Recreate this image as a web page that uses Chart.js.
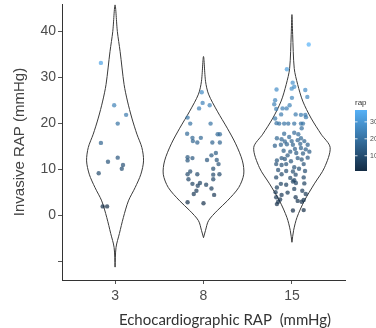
<!DOCTYPE html>
<html>
<head>
<meta charset="utf-8">
<script src="https://cdn.jsdelivr.net/npm/chart.js@4"></script>
<style>
html, body { margin: 0; padding: 0; background: #fff; }
#wrap { width: 376px; height: 328px; }
</style>
</head>
<body>
<div id="wrap"><canvas id="chart" width="376" height="328"></canvas></div>
<script>
// echo RAP groups
const groups = ['3', '8', '15'];
const yTicks = [-10, 0, 10, 20, 30, 40];
const legendTicks = [10, 20, 30];
const rapMin = 1, rapMax = 37;

// invasive RAP per patient + horizontal jitter (category units)
const rap3 = [33.2, 24.0, 21.9, 20.0, 15.8, 12.6, 11.7, 11.0, 10.2, 9.2, 2.0, 2.0];
const jitter3 = [-0.16, -0.01, 0.125, 0.03, -0.16, 0.03, -0.08, 0.09, 0.076, -0.185, -0.14, -0.09];

const rap8 = [26.8, 24.5, 23.3, 24.0, 21.3, 20.0, 20.0, 17.8, 16.9, 16.9, 17.7, 17.7, 16.2, 15.9, 15.9, 15.9,
  13.6, 12.7, 12.5, 12.0, 13.1, 12.1, 12.1, 11.2, 10.2, 9.6, 9.0, 9.0, 8.9, 9.0, 7.9, 7.9, 6.9, 7.1, 6.7, 6.5,
  5.9, 5.4, 4.7, 4.5, 2.9, 2.7];
const jitter8 = [-0.02, -0.01, -0.05, 0.07, -0.18, -0.15, 0.08, -0.185, -0.125, -0.03, 0.16, 0.185, -0.12, -0.07, 0.10, 0.185,
  0.14, -0.18, -0.125, -0.18, 0.09, 0.04, 0.15, 0.17, 0.11, -0.15, -0.18, -0.07, 0.11, 0.18, -0.17, 0.11, -0.125, -0.04, 0.03, -0.065,
  0.09, -0.08, -0.11, 0.12, -0.18, 0.0];

const rap15 = [37.2, 31.8, 28.9, 28.0, 27.6, 27.4, 27.3, 25.6, 25.8, 25.1,
  24.2, 24.0, 23.3, 23.3, 23.2, 22.0, 21.9, 21.9, 21.1, 22.0,
  21.4, 20.1, 20.0, 20.0, 20.0, 20.0, 20.0, 20.0, 19.0, 17.8,
  18.0, 17.7, 17.1, 16.8, 16.6, 16.8, 16.1, 16.2, 16.4, 16.2,
  15.2, 15.4, 15.5, 15.4, 15.6, 15.4, 14.5, 14.7, 14.4, 14.1,
  13.9, 13.6, 13.5, 13.9, 13.1, 12.5, 12.0, 12.3, 12.5, 12.2,
  12.6, 11.8, 11.2, 11.0, 11.2, 11.2, 10.5, 10.2, 9.9, 9.7,
  9.6, 9.7, 9.0, 8.9, 8.3, 8.2, 8.3, 7.7, 7.4, 7.1,
  6.9, 6.7, 7.0, 6.1, 5.8, 5.4, 5.1, 5.0, 4.5, 4.7,
  4.0, 4.0, 3.5, 3.0, 3.2, 3.0, 3.4, 2.5, 1.1, 1.2];
const jitter15 = [0.19, -0.057, 0.008, 0.026, -0.003, -0.174, 0.151, 0, 0.174, -0.19,
  -0.2, -0.026, -0.106, -0.06, -0.178, 0.042, 0.102, 0.151, -0.19, -0.122,
  0.159, -0.174, -0.144, -0.088, -0.042, 0.026, 0.102, 0.125, 0.11, -0.088,
  0.026, 0.072, -0.031, -0.17, -0.117, 0.102, -0.08, -0.003, 0.065, 0.14,
  -0.193, -0.125, -0.057, 0.011, 0.094, 0.178, 0.034, 0.102, 0.156, -0.094,
  -0.019, 0.049, 0.125, 0.197, -0.049, -0.117, -0.17, -0.08, 0.065, 0.11,
  0.178, -0.011, -0.178, -0.117, -0.065, 0.133, 0.026, 0.08, -0.156, -0.065,
  0.011, 0.148, -0.117, 0.042, -0.178, -0.019, 0.133, 0.026, 0.011, 0.045,
  -0.125, -0.065, 0.14, -0.17, 0.026, 0.117, -0.185, -0.049, -0.117, 0.156,
  -0.178, 0.042, -0.133, -0.156, 0.065, 0.11, 0.133, -0.17, 0.011, 0.133];

// violin outlines: levels (mmHg) and density half-widths (category units)
const violinLevels3 = [-11.2, -6.9, -3.9, -0.4, 3.2, 6.1, 9, 11.9, 14.8, 17.7, 21.2, 24.9, 28.5, 35.7, 40, 45.8];
const violinHalf3 = [0, 0.011, 0.049, 0.094, 0.151, 0.227, 0.292, 0.322, 0.303, 0.247, 0.19, 0.140, 0.102, 0.057, 0.026, 0];
const violinLevels8 = [-4.8, -3.2, -1.1, 1.1, 3.2, 6.1, 9, 11.9, 15.6, 19, 22.7, 26.4, 29.2, 34.6];
const violinHalf8 = [0, 0.023, 0.057, 0.156, 0.269, 0.398, 0.455, 0.44, 0.364, 0.269, 0.156, 0.057, 0.023, 0];
const violinLevels15 = [-5.8, -3.2, -0.4, 3.2, 6.9, 10.4, 14.8, 17.7, 21.2, 24.9, 28.5, 32, 39.4, 43.7];
const violinHalf15 = [0, 0.019, 0.057, 0.14, 0.253, 0.367, 0.432, 0.33, 0.216, 0.122, 0.065, 0.026, 0.008, 0];

const lowCol = [19, 43, 67], highCol = [86, 177, 247];
function rapColor(v, a) {
  let t = (v - rapMin) / (rapMax - rapMin);
  t = Math.max(0, Math.min(1, t));
  const c = lowCol.map((l, i) => Math.round(l + (highCol[i] - l) * t));
  return a === undefined ? `rgb(${c[0]},${c[1]},${c[2]})` : `rgba(${c[0]},${c[1]},${c[2]},${a})`;
}

function outline(center, levels, half) {
  const pts = [];
  for (let i = 0; i < levels.length; i++) pts.push({ x: center + half[i], y: levels[i] });
  for (let i = levels.length - 2; i >= 0; i--) pts.push({ x: center - half[i], y: levels[i] });
  return pts;
}
function jittered(center, vals, jit) {
  return vals.map((v, i) => ({ x: center + jit[i], y: v }));
}

const pointSets = [[rap3, jitter3], [rap8, jitter8], [rap15, jitter15]];
const violinSets = [[violinLevels3, violinHalf3], [violinLevels8, violinHalf8], [violinLevels15, violinHalf15]];

const datasets = [];
pointSets.forEach((s, i) => {
  datasets.push({
    data: jittered(i, s[0], s[1]),
    pointRadius: 2.2,
    pointBorderWidth: 0,
    backgroundColor: ctx => rapColor(ctx.raw ? ctx.raw.y : 10, 0.7),
    order: 0
  });
});
violinSets.forEach((s, i) => {
  datasets.push({
    data: outline(i, s[0], s[1]),
    showLine: true,
    pointRadius: 0,
    borderColor: '#3a3a3a',
    borderWidth: 1,
    tension: 0.3,
    fill: false,
    order: 1
  });
});

const extras = {
  id: 'extras',
  afterDraw(chart) {
    const ctx = chart.ctx;
    ctx.save();
    // x title
    ctx.fillStyle = '#333';
    ctx.font = '15px Lato';
    ctx.textAlign = 'center';
    ctx.textBaseline = 'middle';
    ctx.fillText('Echocardiographic RAP  (mmHg)', 225, 320);
    // colour bar legend
    const bx = 355, bw = 12, top = 110, bot = 171;
    const g = ctx.createLinearGradient(0, bot, 0, top);
    g.addColorStop(0, rapColor(rapMin));
    g.addColorStop(1, rapColor(rapMax));
    ctx.fillStyle = g;
    ctx.fillRect(bx, top, bw, bot - top);
    ctx.font = '8px "Liberation Sans"';
    ctx.textAlign = 'left';
    ctx.fillStyle = '#333';
    ctx.fillText('rap', bx, 103);
    ctx.font = '7px "Liberation Sans"';
    ctx.fillStyle = '#4d4d4d';
    ctx.strokeStyle = 'rgba(255,255,255,0.8)';
    legendTicks.forEach(v => {
      const y = bot - (v - rapMin) / (rapMax - rapMin) * (bot - top);
      ctx.beginPath();
      ctx.moveTo(bx, y); ctx.lineTo(bx + 2.5, y);
      ctx.moveTo(bx + bw - 2.5, y); ctx.lineTo(bx + bw, y);
      ctx.stroke();
      ctx.fillText(String(v), bx + bw + 3, y);
    });
    ctx.restore();
  }
};

new Chart(document.getElementById('chart'), {
  type: 'scatter',
  data: { datasets },
  options: {
    responsive: false,
    animation: false,
    layout: { padding: { left: 0, top: 2, right: 31, bottom: 0 } },
    plugins: { legend: { display: false }, tooltip: { enabled: false } },
    scales: {
      x: {
        type: 'linear',
        min: -0.6,
        max: 2.6,
        afterBuildTicks: axis => { axis.ticks = groups.map((g, i) => ({ value: i })); },
        afterFit: axis => { axis.height = 48; axis.paddingLeft = 0; axis.paddingRight = 0; },
        grid: { drawOnChartArea: false, drawTicks: true, tickLength: 4, tickColor: '#555' },
        border: { color: '#333', width: 1 },
        ticks: {
          padding: 4,
          color: '#4d4d4d',
          font: { family: 'Liberation Sans', size: 14 },
          callback: v => groups[v]
        }
      },
      y: {
        min: -14,
        max: 46,
        afterBuildTicks: axis => { axis.ticks = yTicks.map(v => ({ value: v })); },
        afterFit: axis => { axis.width = 62; axis.paddingTop = 0; axis.paddingBottom = 0; },
        grid: { drawOnChartArea: false, drawTicks: true, tickLength: 4, tickColor: '#555' },
        border: { color: '#333', width: 1 },
        ticks: {
          padding: 2,
          color: '#4d4d4d',
          font: { family: 'Liberation Sans', size: 14 },
          callback: v => (v < 0 ? '' : String(v))
        },
        title: {
          display: true,
          text: 'Invasive RAP (mmHg)',
          color: '#444',
          font: { family: 'Liberation Sans', size: 15, lineHeight: 1.2 },
          padding: { top: 11, bottom: 0 }
        }
      }
    }
  },
  plugins: [extras]
});
</script>
</body>
</html>
